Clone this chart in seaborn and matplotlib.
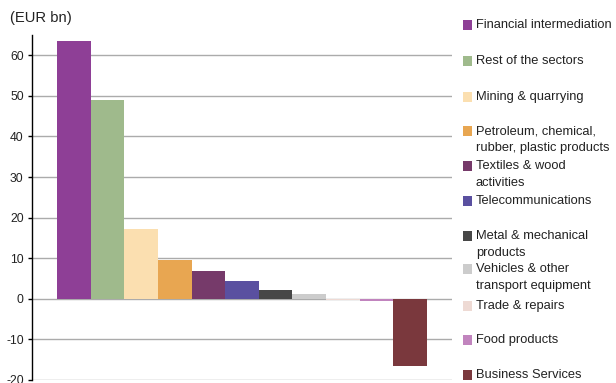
import matplotlib
matplotlib.use("Agg")
import matplotlib.pyplot as plt
import seaborn as sns
from matplotlib.patches import Rectangle

sectors = [
    "Financial intermediation",
    "Rest of the sectors",
    "Mining & quarrying",
    "Petroleum, chemical,\nrubber, plastic products",
    "Textiles & wood\nactivities",
    "Telecommunications",
    "Metal & mechanical\nproducts",
    "Vehicles & other\ntransport equipment",
    "Trade & repairs",
    "Food products",
    "Business Services",
]
values = [63.5, 49.0, 17.1, 9.6, 6.9, 4.4, 2.2, 1.1, -0.4, -0.6, -16.5]
colors = ["#8E3F96", "#9FBA8C", "#FBDFB0", "#E8A651", "#763A6A", "#5A50A0",
          "#474747", "#CCCCCC", "#EEDAD4", "#C184BE", "#7A383D"]
yticks = [-20, -10, 0, 10, 20, 30, 40, 50, 60]

sns.set_theme(style="white")
plt.rcParams["font.family"] = ["Liberation Sans", "DejaVu Sans"]

fig = plt.figure(figsize=(6.16, 3.83), dpi=100)
ax = fig.add_axes([32 / 616, 3 / 383, 420 / 616, 345 / 383])

sns.barplot(x=list(range(len(sectors))), y=values, hue=list(range(len(sectors))),
            palette=colors, legend=False, width=1.0, saturation=1,
            edgecolor="none", linewidth=0, ax=ax, zorder=3)

ax.set_xlim(-1.24, len(sectors) - 1 + 1.24)
ax.set_ylim(-20, 65)
ax.set_yticks(yticks)
ax.set_yticklabels([str(t) for t in yticks], fontsize=8.7, color="#222222")
ax.set_xticks([])
ax.set_xlabel("")
ax.set_ylabel("")
ax.yaxis.grid(True, color="#ABABAB", linewidth=1.0, zorder=0)
ax.set_axisbelow(True)
for side in ["top", "right", "bottom"]:
    ax.spines[side].set_visible(False)
ax.spines["left"].set_color("black")
ax.spines["left"].set_linewidth(1.0)
ax.tick_params(axis="y", length=3, width=1, color="black", pad=3, left=True)

fig.text(10 / 616, 1 - 18 / 383, "(EUR bn)", fontsize=10.6, va="center", ha="left",
         color="#222222")

# legend drawn as a column of swatches with labels
legend_y = [25, 61, 97, 131, 166, 201, 236, 269, 306, 340, 375]
for label, col, y in zip(sectors, colors, legend_y):
    fig.patches.append(Rectangle((463 / 616, 1 - (y + 5) / 383), 9 / 616, 10 / 383,
                                 transform=fig.transFigure, facecolor=col,
                                 edgecolor="none"))
    if "\n" in label:
        fig.text(476 / 616, 1 - (y - 6) / 383, label, fontsize=9.3, va="top",
                 ha="left", color="#222222", linespacing=1.55)
    else:
        fig.text(476 / 616, 1 - y / 383, label, fontsize=9.3, va="center",
                 ha="left", color="#222222")

fig.savefig("out.png", dpi=100)
